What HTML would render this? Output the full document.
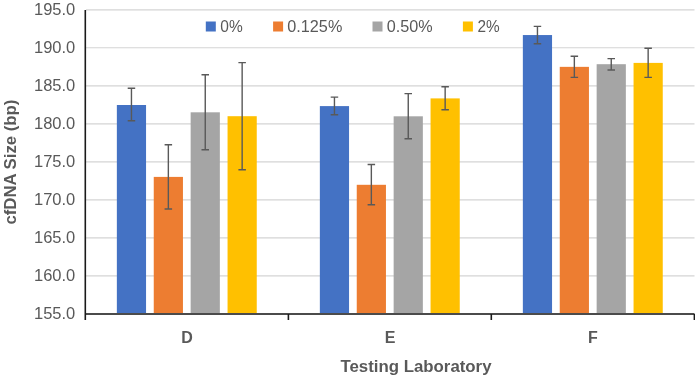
<!DOCTYPE html>
<html><head><meta charset="utf-8"><style>
html,body{margin:0;padding:0;background:#fff;width:695px;height:378px;overflow:hidden}
svg{display:block;will-change:transform}
.t{font-family:"Liberation Sans",sans-serif;font-size:16px;fill:#595959}
.b{font-family:"Liberation Sans",sans-serif;font-size:16px;font-weight:bold;fill:#595959}
</style></head><body>
<svg width="695" height="378" viewBox="0 0 695 378">
<line x1="86" y1="9.94" x2="694.5" y2="9.94" stroke="#D4D4D4" stroke-width="1.2"/>
<line x1="86" y1="47.74" x2="694.5" y2="47.74" stroke="#D4D4D4" stroke-width="1.2"/>
<line x1="86" y1="85.8" x2="694.5" y2="85.8" stroke="#D4D4D4" stroke-width="1.2"/>
<line x1="86" y1="123.94" x2="694.5" y2="123.94" stroke="#D4D4D4" stroke-width="1.2"/>
<line x1="86" y1="161.94" x2="694.5" y2="161.94" stroke="#D4D4D4" stroke-width="1.2"/>
<line x1="86" y1="199.9" x2="694.5" y2="199.9" stroke="#D4D4D4" stroke-width="1.2"/>
<line x1="86" y1="237.9" x2="694.5" y2="237.9" stroke="#D4D4D4" stroke-width="1.2"/>
<line x1="86" y1="275.9" x2="694.5" y2="275.9" stroke="#D4D4D4" stroke-width="1.2"/>
<rect x="116.85" y="105" width="29.2" height="209.00" fill="#4472C4"/>
<rect x="153.75" y="176.9" width="29.2" height="137.10" fill="#ED7D31"/>
<rect x="190.65" y="112.3" width="29.2" height="201.70" fill="#A5A5A5"/>
<rect x="227.55" y="116.2" width="29.2" height="197.80" fill="#FFC000"/>
<rect x="319.85" y="106.1" width="29.2" height="207.90" fill="#4472C4"/>
<rect x="356.75" y="184.8" width="29.2" height="129.20" fill="#ED7D31"/>
<rect x="393.65" y="116.3" width="29.2" height="197.70" fill="#A5A5A5"/>
<rect x="430.55" y="98.4" width="29.2" height="215.60" fill="#FFC000"/>
<rect x="522.85" y="35.05" width="29.2" height="278.95" fill="#4472C4"/>
<rect x="559.75" y="66.85" width="29.2" height="247.15" fill="#ED7D31"/>
<rect x="596.65" y="64.2" width="29.2" height="249.80" fill="#A5A5A5"/>
<rect x="633.55" y="62.9" width="29.2" height="251.10" fill="#FFC000"/>
<path d="M131.45 88.3V120.7M127.70 88.3H135.20M127.70 120.7H135.20" stroke="#595959" stroke-width="1.4" fill="none"/>
<path d="M168.35 144.8V209M164.60 144.8H172.10M164.60 209H172.10" stroke="#595959" stroke-width="1.4" fill="none"/>
<path d="M205.25 74.8V149.7M201.50 74.8H209.00M201.50 149.7H209.00" stroke="#595959" stroke-width="1.4" fill="none"/>
<path d="M242.15 62.6V169.8M238.40 62.6H245.90M238.40 169.8H245.90" stroke="#595959" stroke-width="1.4" fill="none"/>
<path d="M334.45 97.1V114.8M330.70 97.1H338.20M330.70 114.8H338.20" stroke="#595959" stroke-width="1.4" fill="none"/>
<path d="M371.35 164.5V204.8M367.60 164.5H375.10M367.60 204.8H375.10" stroke="#595959" stroke-width="1.4" fill="none"/>
<path d="M408.25 93.6V138.8M404.50 93.6H412.00M404.50 138.8H412.00" stroke="#595959" stroke-width="1.4" fill="none"/>
<path d="M445.15 86.7V109.8M441.40 86.7H448.90M441.40 109.8H448.90" stroke="#595959" stroke-width="1.4" fill="none"/>
<path d="M537.45 26.4V43.8M533.70 26.4H541.20M533.70 43.8H541.20" stroke="#595959" stroke-width="1.4" fill="none"/>
<path d="M574.35 56.2V77.4M570.60 56.2H578.10M570.60 77.4H578.10" stroke="#595959" stroke-width="1.4" fill="none"/>
<path d="M611.25 58.6V70M607.50 58.6H615.00M607.50 70H615.00" stroke="#595959" stroke-width="1.4" fill="none"/>
<path d="M648.15 48.3V77.4M644.40 48.3H651.90M644.40 77.4H651.90" stroke="#595959" stroke-width="1.4" fill="none"/>
<line x1="85.3" y1="314" x2="694.5" y2="314" stroke="#4b4b4b" stroke-width="1.8"/>
<line x1="85.3" y1="10" x2="85.3" y2="320" stroke="#1a1a1a" stroke-width="1.6"/>
<line x1="288.4" y1="314" x2="288.4" y2="320" stroke="#1a1a1a" stroke-width="1.6"/>
<line x1="491.3" y1="314" x2="491.3" y2="320" stroke="#1a1a1a" stroke-width="1.6"/>
<line x1="694.4" y1="314" x2="694.4" y2="320" stroke="#1a1a1a" stroke-width="1.6"/>
<text x="75.3" y="15.2" text-anchor="end" textLength="41.3" lengthAdjust="spacingAndGlyphs" class="t">195.0</text>
<text x="75.3" y="53.2" text-anchor="end" textLength="41.3" lengthAdjust="spacingAndGlyphs" class="t">190.0</text>
<text x="75.3" y="91.2" text-anchor="end" textLength="41.3" lengthAdjust="spacingAndGlyphs" class="t">185.0</text>
<text x="75.3" y="129.2" text-anchor="end" textLength="41.3" lengthAdjust="spacingAndGlyphs" class="t">180.0</text>
<text x="75.3" y="167.2" text-anchor="end" textLength="41.3" lengthAdjust="spacingAndGlyphs" class="t">175.0</text>
<text x="75.3" y="205.2" text-anchor="end" textLength="41.3" lengthAdjust="spacingAndGlyphs" class="t">170.0</text>
<text x="75.3" y="243.2" text-anchor="end" textLength="41.3" lengthAdjust="spacingAndGlyphs" class="t">165.0</text>
<text x="75.3" y="281.2" text-anchor="end" textLength="41.3" lengthAdjust="spacingAndGlyphs" class="t">160.0</text>
<text x="75.3" y="319.2" text-anchor="end" textLength="41.3" lengthAdjust="spacingAndGlyphs" class="t">155.0</text>
<rect x="205.8" y="21.5" width="10" height="10" fill="#4472C4"/>
<text x="220.3" y="31.5" textLength="22.4" lengthAdjust="spacingAndGlyphs" class="t">0%</text>
<rect x="273.1" y="21.5" width="10" height="10" fill="#ED7D31"/>
<text x="287.3" y="31.5" textLength="55.0" lengthAdjust="spacingAndGlyphs" class="t">0.125%</text>
<rect x="372.5" y="21.5" width="10" height="10" fill="#A5A5A5"/>
<text x="386.7" y="31.5" textLength="45.9" lengthAdjust="spacingAndGlyphs" class="t">0.50%</text>
<rect x="462.9" y="21.5" width="10" height="10" fill="#FFC000"/>
<text x="477.4" y="31.5" textLength="22.2" lengthAdjust="spacingAndGlyphs" class="t">2%</text>
<text x="187" y="342.8" text-anchor="middle" class="b">D</text>
<text x="390" y="342.8" text-anchor="middle" class="b">E</text>
<text x="593" y="342.8" text-anchor="middle" class="b">F</text>
<text x="340.5" y="371.6" textLength="151" lengthAdjust="spacingAndGlyphs" class="b">Testing Laboratory</text>
<text transform="translate(15.7 224.6) rotate(-90)" x="0" y="0" textLength="125" lengthAdjust="spacingAndGlyphs" class="b">cfDNA Size (bp)</text>
</svg>
</body></html>
